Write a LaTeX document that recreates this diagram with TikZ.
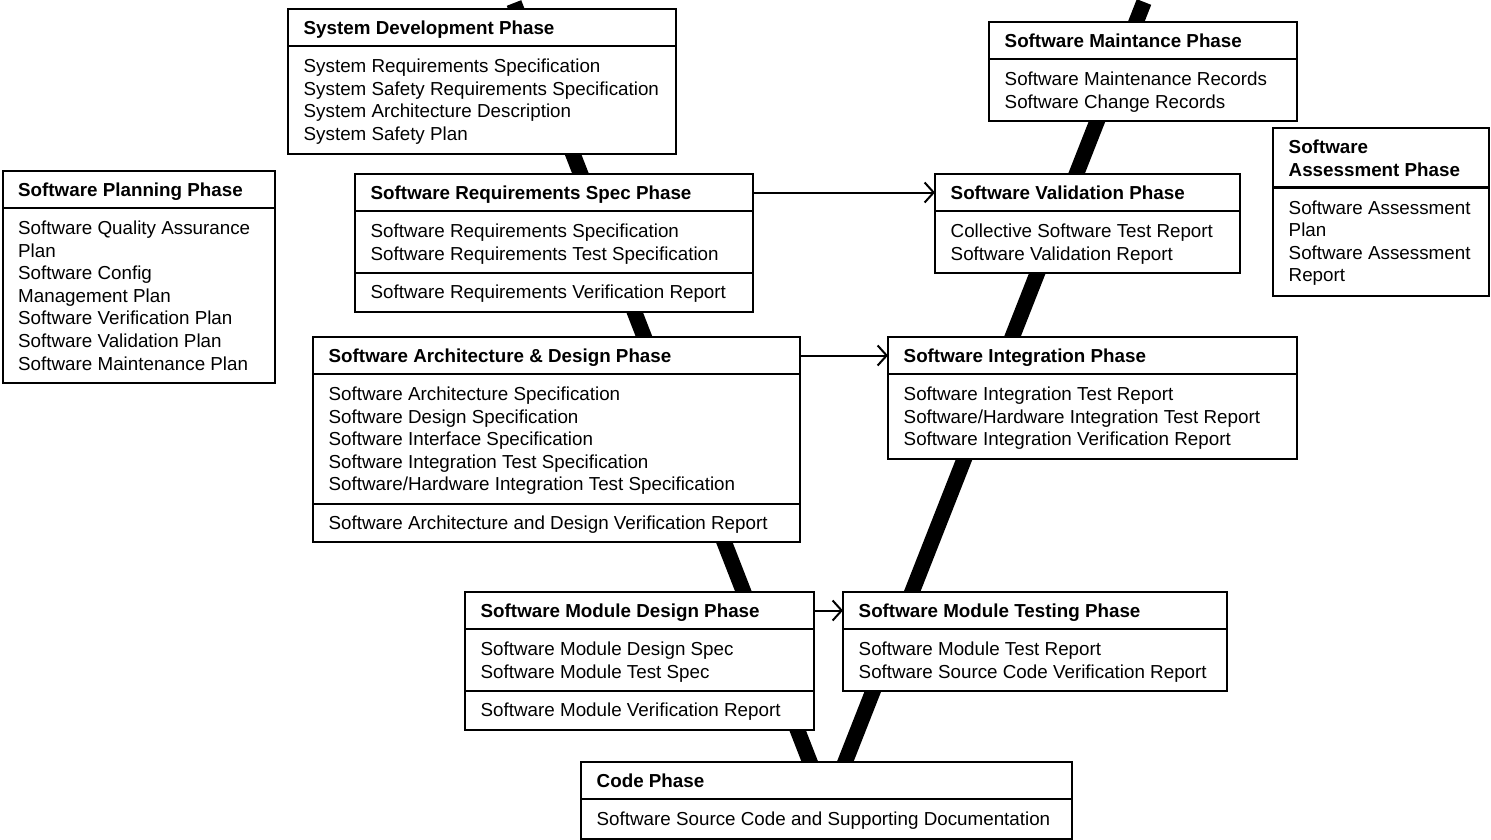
\documentclass[tikz,border=0pt]{standalone}
\usepackage{fontspec}
\setmainfont{Liberation Sans}
\usepackage{tikz}
\usetikzlibrary{arrows.meta}

\tikzset{
  phase/.style={draw, line width=2pt, fill=white, anchor=north west, inner sep=0pt, outer sep=0pt},
  rule/.style={line width=2pt},
  title/.style={anchor=base west, inner sep=0pt, font=\fontsize{18.8}{22.6}\selectfont\bfseries},
  item/.style={anchor=base west, inner sep=0pt},
  vee/.style={line width=15.5pt},
  flow/.style={line width=2pt, -{Straight Barb[length=9pt,width=20pt]}},
}

\begin{document}
\begin{tikzpicture}[x=1pt, y=-1pt, font=\fontsize{18.8}{22.6}\selectfont]
    \useasboundingbox (0,0) rectangle (1491,840);

    % Draw the two thick strokes of the V behind the boxes
    \draw[vee] (514,3) -- (815,775);
    \draw[vee] (1144,2) -- (840,775);

    % Software Planning Phase box on the far left
    \node[phase, minimum width=272.5pt, minimum height=212pt] (plan) at (2.5,171) {};
    \draw[rule] ([yshift=-37pt]plan.north west) -- ([yshift=-37pt]plan.north east);
    \node[title] (plan-t) at (18,196.5) {Software Planning Phase};
    \foreach \txt [count=\i] in {Software Quality Assurance, Plan, Software Config,
        Management Plan, Software Verification Plan, Software Validation Plan,
        Software Maintenance Plan} {
      \node[item] (plan-\i) at (18,{234.5+22.6*(\i-1)}) {\txt};
    }

    % System Development Phase box at the top
    \node[phase, minimum width=388pt, minimum height=145pt] (sysdev) at (288,9) {};
    \draw[rule] ([yshift=-37pt]sysdev.north west) -- ([yshift=-37pt]sysdev.north east);
    \node[title] (sysdev-t) at (303.5,34.5) {System Development Phase};
    \foreach \txt [count=\i] in {System Requirements Specification,
        System Safety Requirements Specification, System Architecture Description,
        System Safety Plan} {
      \node[item] (sysdev-\i) at (303.5,{72.5+22.6*(\i-1)}) {\txt};
    }

    % Software Requirements Spec Phase box
    \node[phase, minimum width=398pt, minimum height=137.6pt] (reqspec) at (355,174) {};
    \draw[rule] ([yshift=-37pt]reqspec.north west) -- ([yshift=-37pt]reqspec.north east);
    \draw[rule] ([yshift=-99.1pt]reqspec.north west) -- ([yshift=-99.1pt]reqspec.north east);
    \node[title] (reqspec-t) at (370.5,199.5) {Software Requirements Spec Phase};
    \foreach \txt [count=\i] in {Software Requirements Specification,
        Software Requirements Test Specification} {
      \node[item] (reqspec-\i) at (370.5,{237.5+22.6*(\i-1)}) {\txt};
    }
    \node[item] (reqspec-v) at (370.5,298.6) {Software Requirements Verification Report};

    % Software Architecture & Design Phase box
    \node[phase, minimum width=487pt, minimum height=205.4pt] (arch) at (313,337) {};
    \draw[rule] ([yshift=-37pt]arch.north west) -- ([yshift=-37pt]arch.north east);
    \draw[rule] ([yshift=-166.9pt]arch.north west) -- ([yshift=-166.9pt]arch.north east);
    \node[title] (arch-t) at (328.5,362.5) {Software Architecture \& Design Phase};
    \foreach \txt [count=\i] in {Software Architecture Specification,
        Software Design Specification, Software Interface Specification,
        Software Integration Test Specification,
        Software/Hardware Integration Test Specification} {
      \node[item] (arch-\i) at (328.5,{400.5+22.6*(\i-1)}) {\txt};
    }
    \node[item] (arch-v) at (328.5,529.4) {Software Architecture and Design Verification Report};

    % Software Module Design Phase box
    \node[phase, minimum width=349pt, minimum height=137.6pt] (mdesign) at (465,592) {};
    \draw[rule] ([yshift=-37pt]mdesign.north west) -- ([yshift=-37pt]mdesign.north east);
    \draw[rule] ([yshift=-99.1pt]mdesign.north west) -- ([yshift=-99.1pt]mdesign.north east);
    \node[title] (mdesign-t) at (480.5,617.5) {Software Module Design Phase};
    \foreach \txt [count=\i] in {Software Module Design Spec, Software Module Test Spec} {
      \node[item] (mdesign-\i) at (480.5,{655.5+22.6*(\i-1)}) {\txt};
    }
    \node[item] (mdesign-v) at (480.5,716.6) {Software Module Verification Report};

    % Code Phase box at the bottom of the V
    \node[phase, minimum width=491pt, minimum height=76.5pt] (code) at (581,762) {};
    \draw[rule] ([yshift=-37pt]code.north west) -- ([yshift=-37pt]code.north east);
    \node[title] (code-t) at (596.5,787.5) {Code Phase};
    \node[item] (code-1) at (596.5,825.5) {Software Source Code and Supporting Documentation};

    % Software Module Testing Phase box
    \node[phase, minimum width=384pt, minimum height=99.1pt] (mtest) at (843,592) {};
    \draw[rule] ([yshift=-37pt]mtest.north west) -- ([yshift=-37pt]mtest.north east);
    \node[title] (mtest-t) at (858.5,617.5) {Software Module Testing Phase};
    \foreach \txt [count=\i] in {Software Module Test Report,
        Software Source Code Verification Report} {
      \node[item] (mtest-\i) at (858.5,{655.5+22.6*(\i-1)}) {\txt};
    }

    % Software Integration Phase box
    \node[phase, minimum width=409pt, minimum height=121.7pt] (integ) at (888,337) {};
    \draw[rule] ([yshift=-37pt]integ.north west) -- ([yshift=-37pt]integ.north east);
    \node[title] (integ-t) at (903.5,362.5) {Software Integration Phase};
    \foreach \txt [count=\i] in {Software Integration Test Report,
        Software/Hardware Integration Test Report,
        Software Integration Verification Report} {
      \node[item] (integ-\i) at (903.5,{400.5+22.6*(\i-1)}) {\txt};
    }

    % Software Validation Phase box
    \node[phase, minimum width=305pt, minimum height=99.1pt] (valid) at (935,174) {};
    \draw[rule] ([yshift=-37pt]valid.north west) -- ([yshift=-37pt]valid.north east);
    \node[title] (valid-t) at (950.5,199.5) {Software Validation Phase};
    \foreach \txt [count=\i] in {Collective Software Test Report,
        Software Validation Report} {
      \node[item] (valid-\i) at (950.5,{237.5+22.6*(\i-1)}) {\txt};
    }

    % Software Maintance Phase box at the top right
    \node[phase, minimum width=308pt, minimum height=99.1pt] (maint) at (989,22) {};
    \draw[rule] ([yshift=-37pt]maint.north west) -- ([yshift=-37pt]maint.north east);
    \node[title] (maint-t) at (1004.5,47.5) {Software Maintance Phase};
    \foreach \txt [count=\i] in {Software Maintenance Records, Software Change Records} {
      \node[item] (maint-\i) at (1004.5,{85.5+22.6*(\i-1)}) {\txt};
    }

    % Software Assessment Phase box on the far right
    \node[phase, minimum width=216pt, minimum height=168pt] (assess) at (1273,128) {};
    \draw[line width=3.5pt] ([yshift=-59.6pt]assess.north west) -- ([yshift=-59.6pt]assess.north east);
    \node[title] (assess-t1) at (1288.5,153.5) {Software};
    \node[title] (assess-t2) at (1288.5,176.1) {Assessment Phase};
    \foreach \txt [count=\i] in {Software Assessment, Plan, Software Assessment, Report} {
      \node[item] (assess-\i) at (1288.5,{214.1+22.6*(\i-1)}) {\txt};
    }

    % Arrows from the left arm of the V to the right arm
    \draw[flow] ([yshift=-18.5pt]reqspec.north east) -- ([yshift=-18.5pt]valid.north west);
    \draw[flow] ([yshift=-18.5pt]arch.north east) -- ([yshift=-18.5pt]integ.north west);
    \draw[flow] ([yshift=-18.5pt]mdesign.north east) -- ([yshift=-18.5pt]mtest.north west);
\end{tikzpicture}
\end{document}
